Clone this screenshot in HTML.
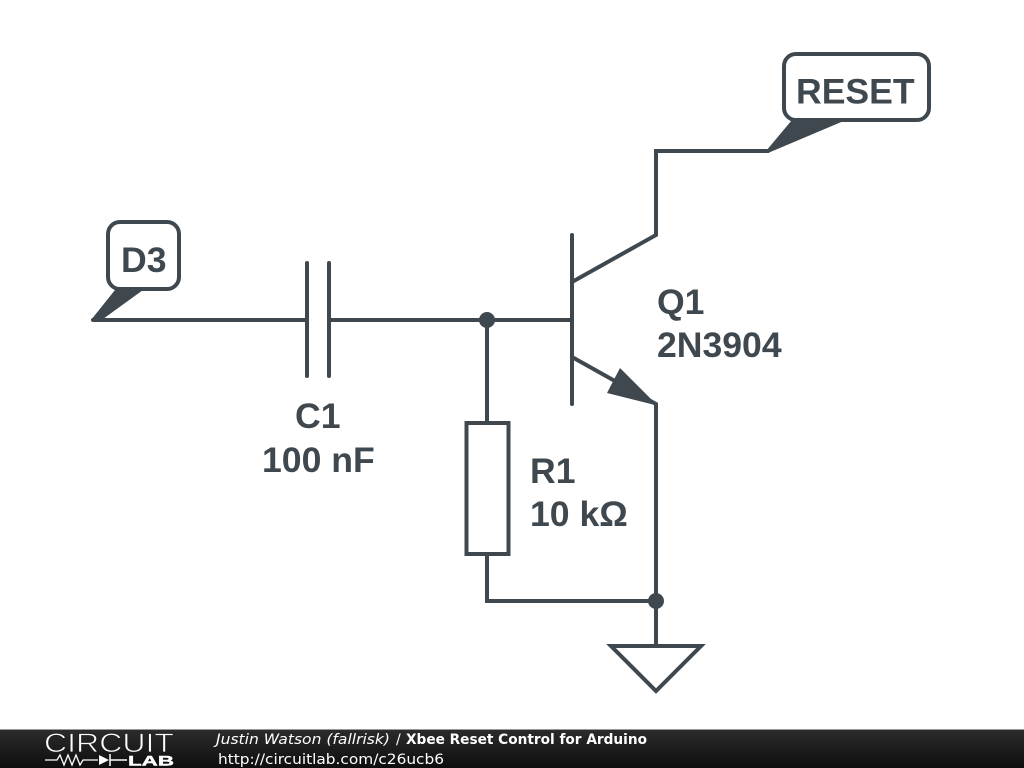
<!DOCTYPE html>
<html>
<head>
<meta charset="utf-8">
<title>Xbee Reset Control for Arduino</title>
<style>
html,body{margin:0;padding:0;background:#fff;}
body{width:1024px;height:768px;overflow:hidden;}
svg{display:block;}
.l{font-family:"Liberation Sans",sans-serif;font-weight:bold;font-size:35.6px;fill:#3f484e;}
.f{font-family:"DejaVu Sans",sans-serif;font-size:14px;fill:#fff;}
</style>
</head>
<body>
<svg width="1024" height="768" viewBox="0 0 1024 768" xmlns="http://www.w3.org/2000/svg">
<defs>
<linearGradient id="g" x1="0" y1="0" x2="0" y2="1">
<stop offset="0" stop-color="#2c2c2c"/>
<stop offset="1" stop-color="#0e0e0e"/>
</linearGradient>
</defs>
<rect width="1024" height="768" fill="#fff"/>
<g fill="none" stroke="#3f484e" stroke-width="4" stroke-linecap="round" stroke-linejoin="miter">
<!-- D3 wire, capacitor -->
<path d="M93 320H306"/>
<path d="M329 320H572"/>
<path d="M307 263V376"/>
<path d="M329 263V376"/>
<!-- resistor -->
<path d="M487 320V423"/>
<rect x="466.500" y="423" width="42" height="131"/>
<path d="M487 554V601H656"/>
<!-- transistor -->
<path d="M572 235V404"/>
<path d="M572 282L656 235V151H768"/>
<path d="M572 357L656 404V645"/>
<!-- ground -->
<path d="M611 646H701L656 691Z"/>
<!-- labels -->
<rect x="784" y="54" width="145" height="66" rx="12" ry="12"/>
<rect x="108" y="222" width="71" height="67" rx="12" ry="12"/>
</g>
<g fill="#3f484e">
<circle cx="487" cy="320" r="8"/>
<circle cx="656" cy="601" r="8"/>
<polygon points="607,393 620,368 656,404 655,405"/>
<polygon points="792,120 846,120 768,153 766,151"/>
<polygon points="115,290 143,290 103,319 91,320"/>
</g>
<text class="l" x="796" y="103.500">RESET</text>
<text class="l" x="121" y="272">D3</text>
<text class="l" x="657" y="314">Q1</text>
<text class="l" x="657" y="357">2N3904</text>
<text class="l" x="295" y="428">C1</text>
<text class="l" x="262" y="472">100 nF</text>
<text class="l" x="530" y="483">R1</text>
<text class="l" x="530" y="526">10 kΩ</text>
<!-- footer -->
<rect x="0" y="729" width="1024" height="39" fill="url(#g)"/>
<rect x="0" y="729" width="1024" height="1" fill="#999"/>
<text x="44" y="752" font-family="'Liberation Sans',sans-serif" font-size="26.500" fill="#fff" stroke="#222" stroke-width=".8" textLength="130" lengthAdjust="spacingAndGlyphs">CIRCUIT</text>
<text x="128" y="765.500" font-family="'Liberation Sans',sans-serif" font-size="14" font-weight="bold" fill="#fff" stroke="#fff" stroke-width=".4" textLength="46" lengthAdjust="spacingAndGlyphs">LAB</text>
<path d="M45 760H57L60 755 64 765 68 755 72 765 76 755 80 765 83 760H98" fill="none" stroke="#fff" stroke-width="1.300"/>
<polygon points="99,755 99,765 109,760" fill="#fff"/>
<path d="M110 754V766M110 760H127" fill="none" stroke="#fff" stroke-width="1.500"/>
<text class="f" x="216" y="744" font-style="italic" textLength="174" lengthAdjust="spacingAndGlyphs">Justin Watson (fallrisk)</text>
<text class="f" x="396" y="744">/</text>
<text class="f" x="406" y="744" font-weight="bold" textLength="241" lengthAdjust="spacingAndGlyphs">Xbee Reset Control for Arduino</text>
<text class="f" x="218" y="764" textLength="226" lengthAdjust="spacingAndGlyphs">http://circuitlab.com/c26ucb6</text>
</svg>
</body>
</html>
